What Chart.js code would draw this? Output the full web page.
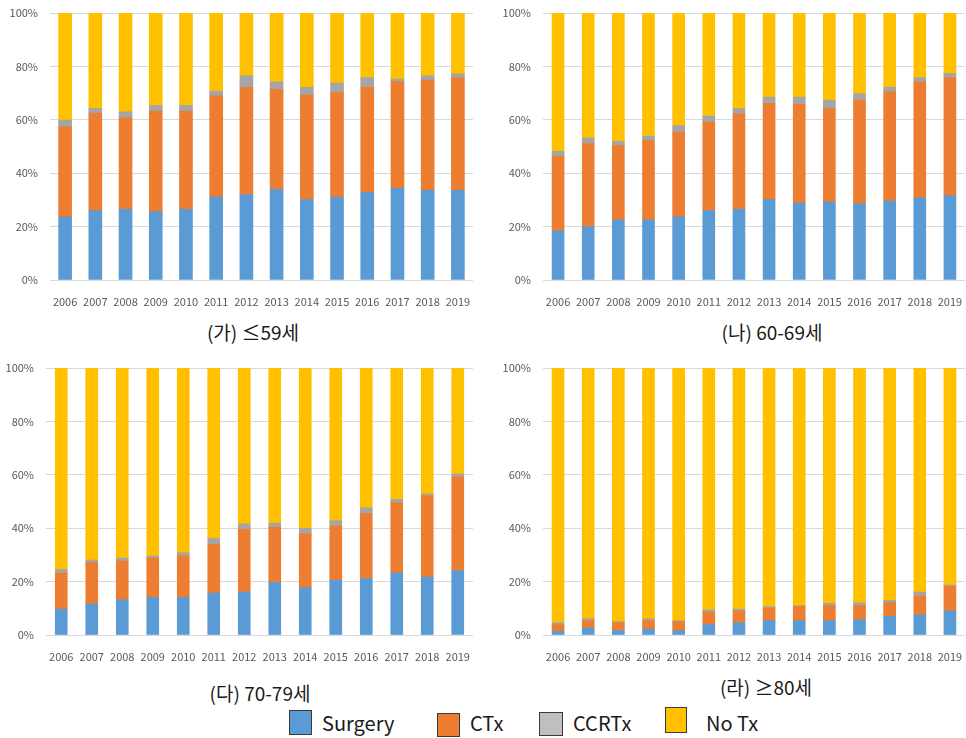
<!DOCTYPE html>
<html><head><meta charset="utf-8">
<script src="https://cdn.jsdelivr.net/npm/chart.js@4"></script>
<style>
html,body{margin:0;padding:0;background:#fff;width:966px;height:738px;overflow:hidden;}
.cv{position:absolute;}
.title{position:absolute;font-family:"Noto Sans CJK KR","Noto Sans",sans-serif;font-size:19px;color:#1a1a1a;white-space:nowrap;transform:translate(-50%,-50%);}
.lg{position:absolute;font-family:"Noto Sans CJK KR","Noto Sans",sans-serif;font-size:20px;color:#1a1a1a;white-space:nowrap;transform:translateY(-50%);}
.box{position:absolute;box-sizing:border-box;border:1.5px solid #3a3a3a;}
</style></head>
<body>
<div class="cv" style="left:0;top:0;width:483px;height:310px"><canvas id="c1"></canvas></div>
<div class="cv" style="left:483px;top:0;width:483px;height:310px"><canvas id="c2"></canvas></div>
<div class="cv" style="left:0;top:355px;width:483px;height:310px"><canvas id="c3"></canvas></div>
<div class="cv" style="left:483px;top:355px;width:483px;height:310px"><canvas id="c4"></canvas></div>
<div class="title" style="left:253px;top:331px">(가) ≤59세</div>
<div class="title" style="left:772px;top:331px">(나) 60-69세</div>
<div class="title" style="left:260px;top:692px">(다) 70-79세</div>
<div class="title" style="left:766px;top:686px">(라) ≥80세</div>
<div class="box" style="left:289px;top:710px;width:23px;height:25px;background:#5B9BD5"></div>
<div class="lg" style="left:322px;top:722px">Surgery</div>
<div class="box" style="left:437px;top:713px;width:23px;height:24px;background:#ED7D31"></div>
<div class="lg" style="left:470px;top:722px">CTx</div>
<div class="box" style="left:539px;top:712px;width:24px;height:24px;background:#BFBFBF"></div>
<div class="lg" style="left:573px;top:722px">CCRTx</div>
<div class="box" style="left:665px;top:707px;width:22px;height:26px;background:#FFC000"></div>
<div class="lg" style="left:706px;top:722px">No Tx</div>
<script>
const years = ['2006','2007','2008','2009','2010','2011','2012','2013','2014','2015','2016','2017','2018','2019'];
const seriesNames = ['Surgery','CTx','CCRTx','No Tx'];
const yTicks = [0,20,40,60,80,100];

// (가) ≤59세
const ga_surgery = [23.6,26.0,26.5,25.6,26.5,31.1,32.0,34.0,30.1,31.1,32.7,34.3,33.6,33.6];
const ga_ctx     = [33.8,36.5,34.2,37.7,36.8,37.9,40.2,37.4,39.2,39.1,39.5,40.0,41.3,42.2];
const ga_ccrt    = [2.5,1.8,2.3,2.1,2.1,1.7,4.3,2.8,2.9,3.6,3.6,1.0,1.6,1.4];
const ga_notx    = [40.1,35.7,37.0,34.6,34.6,29.3,23.5,25.8,27.8,26.2,24.2,24.7,23.5,22.8];

// (나) 60-69세
const na_surgery = [18.4,20.0,22.5,22.5,23.6,26.0,26.5,30.1,28.8,29.2,28.5,29.6,30.8,31.6];
const na_ctx     = [27.9,31.1,27.8,29.7,31.8,33.1,35.7,36.1,37.0,35.0,38.9,40.9,43.4,44.2];
const na_ccrt    = [1.9,2.1,1.6,1.7,2.4,2.3,2.0,2.3,2.7,3.2,2.4,1.7,1.6,1.6];
const na_notx    = [51.8,46.8,48.1,46.1,42.2,38.6,35.8,31.5,31.5,32.6,30.2,27.8,24.2,22.6];

// (다) 70-79세
const da_surgery = [9.7,11.6,13.2,14.1,14.1,15.7,16.1,19.7,17.7,20.5,21.2,23.3,21.7,24.1];
const da_ctx     = [13.5,15.6,14.5,14.7,15.5,18.3,23.5,20.7,20.3,20.3,24.4,26.3,30.4,35.1];
const da_ccrt    = [1.3,0.9,1.1,0.8,1.2,2.1,2.0,1.5,2.0,2.0,2.0,1.2,0.7,1.1];
const da_notx    = [75.5,71.9,71.2,70.4,69.2,63.9,58.4,58.1,60.0,57.2,52.4,49.2,47.2,39.7];

// (라) ≥80세
const ra_surgery = [1.4,2.6,1.7,2.2,1.7,3.9,4.6,5.4,5.4,5.4,5.7,7.0,7.5,9.0];
const ra_ctx     = [2.5,2.8,2.9,3.2,3.3,4.7,4.4,4.7,5.2,5.6,5.3,5.2,7.1,9.2];
const ra_ccrt    = [0.7,0.7,0.4,0.7,0.4,0.8,0.7,0.5,0.4,0.9,1.1,0.8,1.5,0.5];
const ra_notx    = [95.4,93.9,95.0,93.9,94.6,90.6,90.3,89.4,89.0,88.1,87.9,87.0,83.9,81.3];

const colors = ['#5B9BD5','#ED7D31','#A5A5A5','#FFC000'];
const FONT = '"Noto Sans CJK KR","Noto Sans",sans-serif';

function make(id, sets, yWidth, padRight, barW){
  const ctx = document.getElementById(id);
  new Chart(ctx, {
    type:'bar',
    data:{
      labels: years,
      datasets: sets.map((d,i)=>({label:seriesNames[i], data:d, backgroundColor:colors[i], borderWidth:0, barThickness:barW}))
    },
    options:{
      responsive:true, maintainAspectRatio:false, animation:false,
      devicePixelRatio:1,
      layout:{padding:{left:0,right:padRight,top:13,bottom:0}},
      plugins:{legend:{display:false},tooltip:{enabled:false}},
      scales:{
        x:{stacked:true, grid:{display:false}, border:{display:false},
           ticks:{color:'#595959', font:{family:FONT,size:11}, padding:7, maxRotation:0, autoSkip:false},
           afterFit:s=>{s.height=30; s.paddingLeft=0; s.paddingRight=0;}},
        y:{stacked:true, min:0, max:100,
           afterBuildTicks:s=>{s.ticks = yTicks.map(v=>({value:v}));},
           grid:{color:'#D9D9D9', lineWidth:1, drawTicks:false}, border:{display:false},
           ticks:{color:'#595959', font:{family:FONT,size:11}, padding:12, callback:v=>v+'%'},
           afterFit:s=>{s.width=yWidth; s.paddingTop=0; s.paddingBottom=0;}}
      }
    }
  });
}
make('c1',[ga_surgery,ga_ctx,ga_ccrt,ga_notx],50,10,13);
make('c2',[na_surgery,na_ctx,na_ccrt,na_notx],60,1,12);
make('c3',[da_surgery,da_ctx,da_ccrt,da_notx],46,10,12);
make('c4',[ra_surgery,ra_ctx,ra_ccrt,ra_notx],60,1,12);
</script>
</body></html>
